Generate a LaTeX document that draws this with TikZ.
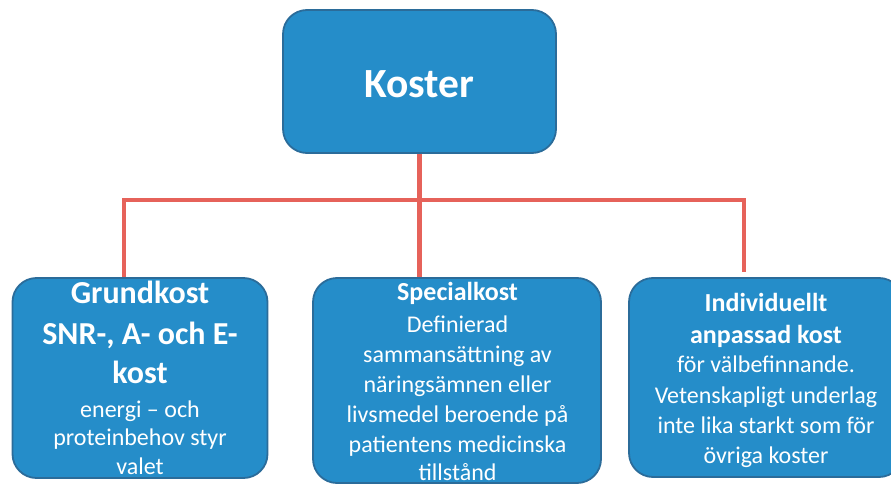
\documentclass[tikz,border=0pt]{standalone}
\usepackage{fontspec}
\setmainfont{Carlito}
\definecolor{boxfill}{HTML}{258DC9}
\definecolor{boxline}{HTML}{2B6C9A}
\definecolor{linkred}{HTML}{E6625A}
\begin{document}
\begin{tikzpicture}[x=1pt,y=-1pt,
  box/.style={draw=boxline, line width=1.8pt, fill=boxfill, rounded corners=24pt,
    inner sep=0pt},
  link/.style={draw=linkred, line width=4.5pt},
  ln/.style={anchor=base, text=white, inner sep=0pt},
  big/.style={ln, font=\bfseries\fontsize{41.5}{48}\selectfont},
  hbig/.style={ln, font=\bfseries\fontsize{32}{38}\selectfont},
  hmid/.style={ln, font=\bfseries\fontsize{26}{31}\selectfont},
  body/.style={ln, font=\fontsize{24}{29}\selectfont}]
\clip (0,0) rectangle (891,484);
% boxes
\node[box, minimum width=273pt, minimum height=143pt] (top) at (419.5,81.5) {};
\node[box, minimum width=255pt, minimum height=200pt] (left) at (140,378) {};
\node[box, minimum width=288pt, minimum height=205pt] (mid) at (457,380.5) {};
\node[box, minimum width=274pt, minimum height=199pt] (right) at (766,377.5) {};
% connectors
\coordinate (lt) at (124,200);
\coordinate (rt) at (744,200);
\coordinate (rb) at (744,272);
\draw[link] (top.south) -- (top.south |- mid.north);
\draw[link] (lt |- left.north) -- (lt) -- (rt) -- (rb);
% texts
\node[big] (k) at (419.5,98) {Koster};
\node[hbig] (l1) at (140,303) {Grundkost};
\node[hbig] (l2) at (140,344) {SNR-, A- och E-};
\node[hbig] (l3) at (140,383) {kost};
\node[body] (l4) at (140,417) {energi – och};
\node[body] (l5) at (140,445.5) {proteinbehov styr};
\node[body] (l6) at (140,474.5) {valet};
\node[hmid] (m1) at (457.5,300) {Specialkost};
\node[body] (m2) at (457.5,332) {Definierad};
\node[body] (m3) at (457.5,362.5) {sammansättning av};
\node[body] (m4) at (457.5,392) {näringsämnen eller};
\node[body] (m5) at (457.5,422) {livsmedel beroende på};
\node[body] (m6) at (457.5,452) {patientens medicinska};
\node[body] (m7) at (457.5,480.5) {tillstånd};
\node[hmid] (r1) at (766,311) {Individuellt};
\node[hmid] (r2) at (766,343) {anpassad kost};
\node[body] (r3) at (766,372.5) {för välbefinnande.};
\node[body] (r4) at (766,403) {Vetenskapligt underlag};
\node[body] (r5) at (766,433) {inte lika starkt som för};
\node[body] (r6) at (766,463) {övriga koster};
\end{tikzpicture}
\end{document}
